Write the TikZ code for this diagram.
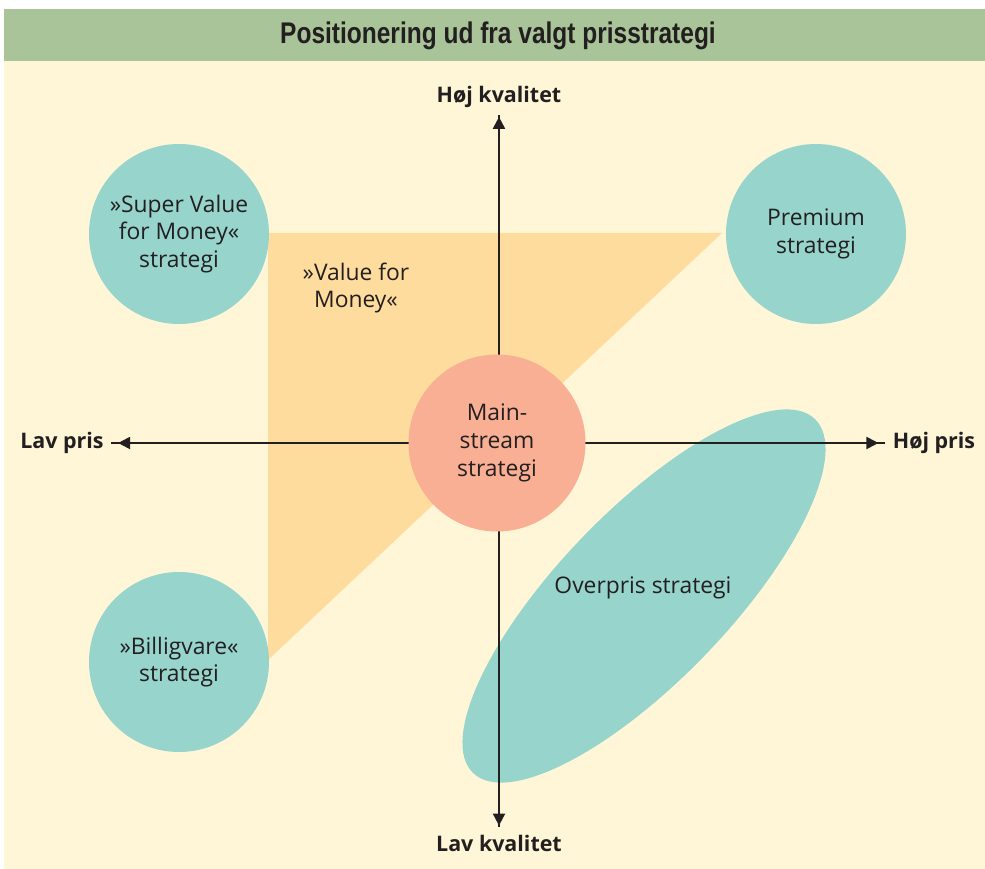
\documentclass[tikz,border=0pt]{standalone}
\usepackage{fontspec}
\setmainfont{Open Sans}
\newfontfamily\titlefont[FakeStretch=0.82]{Liberation Sans}
\usetikzlibrary{arrows.meta,shapes.geometric}

\definecolor{headgreen}{HTML}{A9C498}
\definecolor{cream}{HTML}{FEF6D7}
\definecolor{vfmorange}{HTML}{FEDC9D}
\definecolor{stratteal}{HTML}{96D4CC}
\definecolor{mainsalmon}{HTML}{F8AF94}
\definecolor{inkgray}{HTML}{231F20}

\tikzset{
  strat/.style={circle, fill=stratteal, minimum size=36mm, inner sep=0pt, align=center,
    text=inkgray, font=\fontsize{13}{15.8}\selectfont},
  axislabel/.style={font=\bfseries\fontsize{12.2}{15}\selectfont, text=inkgray, inner sep=4pt},
  axis/.style={draw=inkgray, line width=1.1pt, -{Triangle[length=2.4mm,width=2.4mm]}},
}

\begin{document}
\begin{tikzpicture}[x=0.2mm,y=-0.2mm]
\useasboundingbox (0,0) rectangle (985,869);

% Background and heading band
\fill[cream] (4,61) rectangle (985,869);
\fill[headgreen] (4,9) rectangle (985,61);
\node[font=\titlefont\bfseries\fontsize{17}{20}\selectfont, text=inkgray] (title) at (498,36) {Positionering ud fra valgt prisstrategi};

% "Value for Money" triangle
\fill[vfmorange] (268,233) -- (722,233) -- (268,660) -- cycle;
\node[align=center, text=inkgray, font=\fontsize{13}{15.8}\selectfont] (vfm) at (356,288) {»Value for\\Money«};

% Overpris ellipse (rotated)
\fill[stratteal, rotate around={46:(644,596)}] (644,596) ellipse [x radius=246, y radius=85];
\node[text=inkgray, font=\fontsize{13}{15.8}\selectfont] (overpris) at (643,588) {Overpris strategi};

% Axis labels
\node[axislabel] (hojkval) at (499,97) {Høj kvalitet};
\node[axislabel] (lavkval) at (499,843) {Lav kvalitet};
\node[axislabel] (lavpris) at (62,443) {Lav pris};
\node[axislabel] (hojpris) at (934,443) {Høj pris};

% Axes
\draw[axis, shorten >=1pt] (lavkval) -- (hojkval);
\draw[axis, shorten >=1pt] (hojkval) -- (lavkval);
\draw[axis, shorten >=4pt] (hojpris) -- (lavpris);
\draw[axis, shorten >=4pt] (lavpris) -- (hojpris);

% Strategy circles
\node[strat] (supervalue) at (179,234) {»Super Value\\for Money«\\strategi};
\node[strat] (premium) at (816,234) {Premium\\strategi};
\node[strat] (billigvare) at (179,662) {»Billigvare«\\strategi};
\node[strat, fill=mainsalmon, minimum size=35.4mm] (mainstream) at (497,443) {Main-\\stream\\strategi};

\end{tikzpicture}
\end{document}
